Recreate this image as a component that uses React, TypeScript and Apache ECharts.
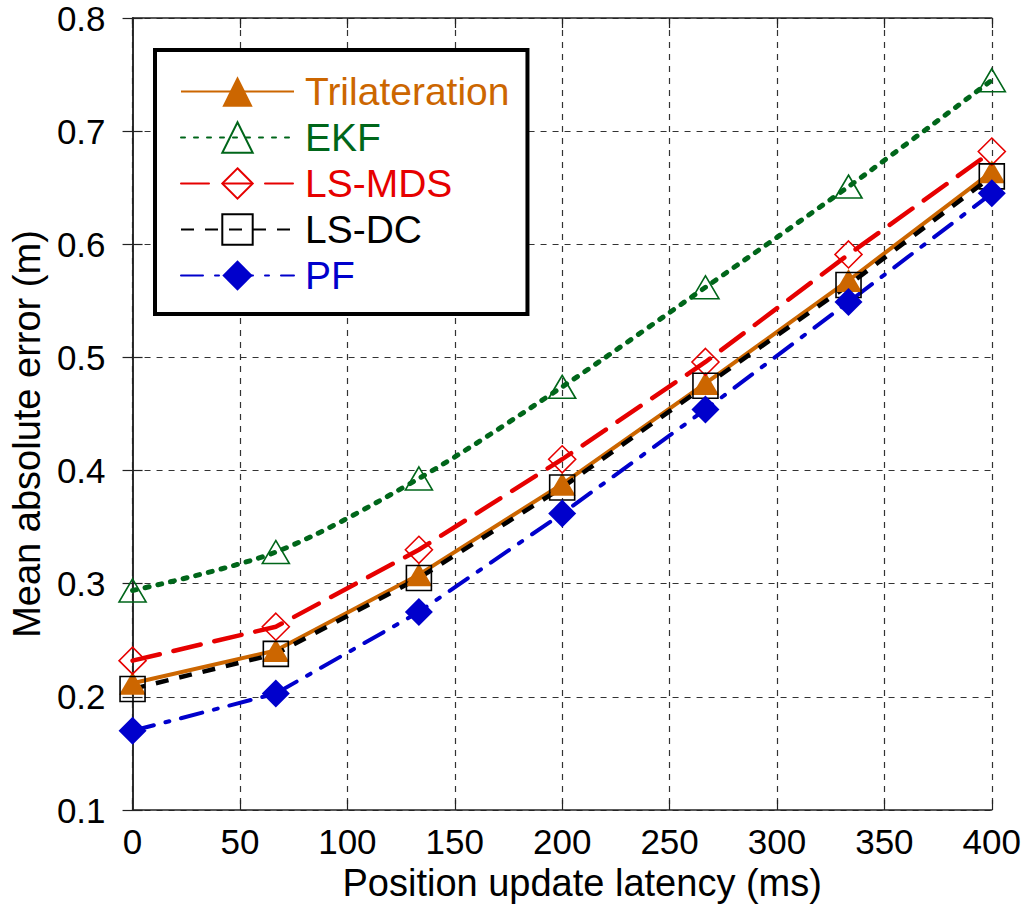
import { useEffect, useRef } from 'react'
import * as echarts from 'echarts'

// position update latency (ms)
const latency = [0, 66.7, 133.3, 200, 266.7, 333.3, 400]

// mean absolute error (m)
const trilateration = [0.212, 0.241, 0.308, 0.388, 0.477, 0.568, 0.664]
const ekf = [0.294, 0.328, 0.393, 0.474, 0.562, 0.651, 0.745]
const lsMds = [0.232, 0.262, 0.33, 0.41, 0.496, 0.591, 0.682]
const lsDc = [0.207, 0.238, 0.305, 0.385, 0.475, 0.564, 0.66]
const pf = [0.17, 0.203, 0.275, 0.362, 0.454, 0.549, 0.645]

const FONT = 'Liberation Sans, Arial, sans-serif'

const pairs = (ys: number[]) => latency.map((x, i) => [x, ys[i]])

export default function App() {
  const ref = useRef<HTMLDivElement | null>(null)

  useEffect(() => {
    if (!ref.current) return
    const chart = echarts.init(ref.current, null, { renderer: 'svg' })
    chart.setOption(buildOption())
    return () => chart.dispose()
  }, [])

  return (
    <div
      ref={ref}
      style={{ position: 'fixed', left: 0, top: 0, width: 1024, height: 909, background: '#fff' }}
    />
  )
}

function buildOption() {
  const gridLine = { show: true, lineStyle: { color: '#333', width: 1.2, type: [6, 6] } }
  const tick = { show: true, inside: true, length: 10, lineStyle: { color: '#222', width: 1.2 } }
  const axisLine = { show: true, lineStyle: { color: '#222', width: 1.5 } }
  const label = { color: '#000', fontSize: 35, fontFamily: FONT }

  const legendItem = (name: string, color: string) => ({ name, textStyle: { color } })

  return {
    animation: false,
    backgroundColor: '#fff',
    textStyle: { fontFamily: FONT },
    grid: { left: 129, right: 32, top: 18, bottom: 99 },
    legend: {
      orient: 'vertical',
      left: 155,
      top: 50,
      padding: [22, 18, 19, 25],
      backgroundColor: '#fff',
      borderColor: '#000',
      borderWidth: 4,
      itemWidth: 113,
      itemHeight: 38,
      itemGap: 7,
      selectedMode: false,
      textStyle: { fontSize: 39, fontFamily: FONT, padding: [0, 0, 0, 6] },
      data: [
        legendItem('Trilateration', '#CC6600'),
        legendItem('EKF', '#00661A'),
        legendItem('LS-MDS', '#E60000'),
        legendItem('LS-DC', '#000'),
        legendItem('PF', '#0000CC'),
      ],
    },
    xAxis: [
      {
        type: 'value',
        min: 0,
        max: 400,
        interval: 50,
        name: 'Position update latency (ms)',
        nameLocation: 'middle',
        nameGap: 54,
        nameTextStyle: { color: '#000', fontSize: 38, fontFamily: FONT, padding: [0, 0, 0, 40] },
        axisLine,
        axisTick: tick,
        axisLabel: { ...label, margin: 14 },
        splitLine: gridLine,
      },
      {
        type: 'value',
        position: 'top',
        min: 0,
        max: 400,
        interval: 50,
        axisLine,
        axisTick: tick,
        axisLabel: { show: false },
        splitLine: { show: false },
      },
    ],
    yAxis: [
      {
        type: 'value',
        min: 0.1,
        max: 0.8,
        interval: 0.1,
        name: 'Mean absolute error (m)',
        nameLocation: 'middle',
        nameGap: 86,
        nameTextStyle: { color: '#000', fontSize: 38, fontFamily: FONT, padding: [0, 40, 0, 0] },
        axisLine,
        axisTick: tick,
        axisLabel: { ...label, margin: 27, formatter: (v: number) => v.toFixed(1) },
        splitLine: gridLine,
      },
      {
        type: 'value',
        position: 'right',
        min: 0.1,
        max: 0.8,
        interval: 0.1,
        axisLine,
        axisTick: tick,
        axisLabel: { show: false },
        splitLine: { show: false },
      },
    ],
    series: [
      {
        name: 'Trilateration',
        type: 'line',
        data: pairs(trilateration),
        symbol: 'triangle',
        symbolSize: [27, 23],
        itemStyle: { color: '#CC6600' },
        lineStyle: { color: '#CC6600', width: 4 },
      },
      {
        name: 'EKF',
        type: 'line',
        data: pairs(ekf),
        smooth: 0.3,
        symbol: 'triangle',
        symbolSize: [27, 23],
        itemStyle: { color: 'rgba(0,0,0,0)', borderColor: '#00661A', borderWidth: 1.6 },
        lineStyle: { color: '#00661A', width: 5, type: [4, 9], cap: 'round' },
      },
      {
        name: 'LS-MDS',
        type: 'line',
        data: pairs(lsMds),
        symbol: 'diamond',
        symbolSize: [27, 27],
        itemStyle: { color: 'rgba(0,0,0,0)', borderColor: '#E60000', borderWidth: 1.6 },
        lineStyle: { color: '#E60000', width: 4.5, type: [28, 14], cap: 'round' },
      },
      {
        name: 'LS-DC',
        type: 'line',
        data: pairs(lsDc),
        symbol: 'rect',
        symbolSize: [25, 25],
        itemStyle: { color: 'rgba(0,0,0,0)', borderColor: '#000', borderWidth: 1.6 },
        lineStyle: { color: '#000', width: 4.5, type: [13, 11] },
      },
      {
        name: 'PF',
        type: 'line',
        data: pairs(pf),
        symbol: 'diamond',
        symbolSize: [28, 28],
        itemStyle: { color: '#0000CC' },
        lineStyle: { color: '#0000CC', width: 4, type: [22, 12, 4, 12], cap: 'round' },
      },
    ],
  }
}
